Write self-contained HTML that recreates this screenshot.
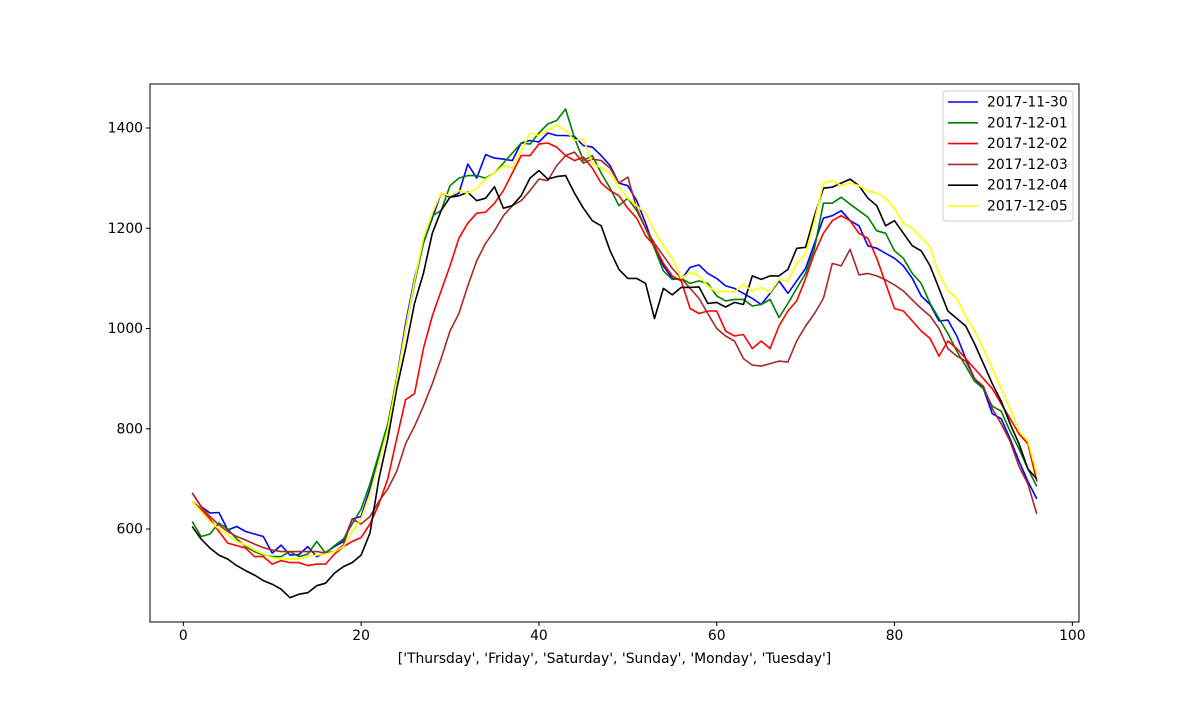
<!DOCTYPE html>
<html><head><meta charset="utf-8"><style>
body{margin:0;background:#fff;}
svg text{font-family:"DejaVu Sans","Liberation Sans",sans-serif;font-size:13.9px;fill:#000;}
</style></head><body>
<svg id="chart" width="1200" height="700" xmlns="http://www.w3.org/2000/svg">
<rect width="1200" height="700" fill="#fff"/>
<g id="plot"></g>
</svg>
<script>
const xTicks=[0,20,40,60,80,100];
const yTicks=[600,800,1000,1200,1400];
const seriesNames=["2017-11-30","2017-12-01","2017-12-02","2017-12-03","2017-12-04","2017-12-05"];
const seriesColors=["blue","green","red","brown","black","yellow"];
const s1130=[672,645,632,633,598,605,595,590,585,552,568,548,549,565,545,553,565,575,620,625,680,740,800,900,1010,1100,1170,1220,1270,1262,1270,1328,1300,1347,1340,1338,1335,1370,1375,1372,1390,1385,1385,1383,1365,1362,1345,1325,1290,1285,1255,1210,1160,1125,1100,1097,1122,1127,1110,1100,1085,1080,1070,1060,1048,1070,1095,1070,1095,1120,1170,1220,1225,1235,1215,1205,1165,1160,1150,1140,1125,1100,1065,1048,1015,1017,985,940,900,880,830,820,780,735,695,660];
const s1201=[615,585,590,612,600,580,565,555,548,545,545,555,545,550,575,552,567,580,610,640,690,750,810,900,1000,1090,1170,1225,1235,1285,1300,1305,1305,1300,1310,1330,1350,1370,1368,1390,1408,1415,1438,1380,1335,1345,1310,1280,1245,1260,1235,1200,1160,1115,1098,1100,1090,1095,1090,1065,1055,1058,1058,1045,1048,1058,1022,1050,1080,1110,1160,1250,1250,1262,1248,1235,1222,1195,1190,1155,1140,1110,1090,1050,1020,990,955,925,895,880,845,835,795,760,720,685];
const s1202=[655,640,620,595,572,567,562,545,545,530,537,533,533,527,530,530,550,565,575,583,610,650,700,780,858,870,960,1025,1075,1125,1180,1210,1230,1232,1250,1275,1310,1345,1345,1368,1370,1362,1345,1335,1342,1320,1290,1275,1265,1240,1220,1185,1165,1130,1105,1095,1040,1030,1035,1035,995,985,988,960,975,960,1005,1035,1055,1100,1150,1190,1215,1225,1215,1190,1180,1140,1090,1040,1035,1015,995,980,945,975,960,940,920,900,880,850,820,790,770,695];
const s1203=[672,645,625,608,595,585,578,570,563,558,555,555,555,555,555,552,555,568,620,610,625,655,680,715,770,805,845,890,940,995,1030,1085,1135,1170,1195,1225,1245,1255,1275,1298,1295,1325,1345,1352,1330,1338,1335,1320,1290,1302,1240,1200,1170,1145,1120,1100,1080,1060,1030,1000,985,975,940,927,925,930,935,933,975,1005,1030,1060,1130,1125,1158,1107,1110,1105,1097,1087,1075,1057,1040,1025,1000,960,945,935,900,885,840,810,775,725,690,630];
const s1204=[605,580,562,548,540,527,517,508,497,490,480,463,470,473,487,492,512,525,533,548,592,700,780,880,960,1050,1110,1190,1235,1262,1265,1272,1255,1260,1283,1240,1245,1265,1300,1315,1298,1303,1305,1270,1240,1215,1205,1155,1118,1100,1100,1090,1020,1080,1067,1082,1082,1083,1050,1052,1043,1052,1048,1105,1098,1105,1105,1118,1160,1162,1225,1280,1282,1290,1298,1285,1260,1245,1205,1215,1190,1165,1155,1125,1080,1035,1020,1005,970,930,890,855,810,770,720,700];
const s1205=[655,635,615,600,588,575,568,558,550,543,540,540,540,545,548,550,555,565,595,620,670,735,800,895,1000,1095,1180,1230,1270,1265,1275,1270,1280,1298,1310,1325,1320,1355,1390,1385,1395,1405,1395,1375,1378,1330,1320,1310,1282,1260,1245,1230,1195,1165,1140,1100,1112,1105,1085,1072,1075,1072,1088,1075,1082,1072,1098,1095,1130,1150,1215,1290,1295,1285,1290,1285,1275,1270,1260,1240,1210,1200,1182,1162,1110,1075,1060,1025,995,960,920,880,840,795,775,710];
const seriesValues=[s1130,s1201,s1202,s1203,s1204,s1205];

const L=150,R=1079,T=84,B=622;
const xMin=-3.75,xMax=100.75,yMin=414.5,yMax=1487.8;
const X=v=>L+(v-xMin)/(xMax-xMin)*(R-L);
const Y=v=>B-(v-yMin)/(yMax-yMin)*(B-T);
const NS="http://www.w3.org/2000/svg";
const g=document.getElementById('plot');
function mk(tag,attrs,parent){const e=document.createElementNS(NS,tag);for(const k in attrs)e.setAttribute(k,attrs[k]);(parent||g).appendChild(e);return e;}

seriesValues.forEach((vals,si)=>{
  const pts=vals.map((v,i)=>X(i+1).toFixed(1)+","+Y(v).toFixed(1)).join(" ");
  const p=mk('polyline',{points:pts,fill:'none',stroke:seriesColors[si],'stroke-width':1.6,'stroke-linejoin':'round'});
  
  
});

const frame=mk('rect',{x:L,y:T,width:R-L,height:B-T,fill:'none',stroke:'#000','stroke-width':1});



xTicks.forEach(t=>{
  const x=X(t);
  const tk=mk('line',{x1:x,x2:x,y1:B,y2:B+4,stroke:'#000'});
  
  
  const tx=mk('text',{x:x,y:B+18,'text-anchor':'middle'});
  tx.textContent=t;
  
  
});
yTicks.forEach(t=>{
  const y=Y(t);
  const tk=mk('line',{x1:L-4,x2:L,y1:y,y2:y,stroke:'#000'});
  
  
  const tx=mk('text',{x:L-7,y:y+4.5,'text-anchor':'end'});
  tx.textContent=t;
  
  
});
const xl=mk('text',{x:(L+R)/2,y:663,'text-anchor':'middle'});
xl.textContent="['Thursday', 'Friday', 'Saturday', 'Sunday', 'Monday', 'Tuesday']";



const lg=mk('g',{});


mk('rect',{x:943,y:91,width:130,height:130,rx:3,fill:'#fff',stroke:'#ccc'},lg);
seriesNames.forEach((n,i)=>{
  const y=102+i*20.8;
  const e=mk('g',{},lg);
  
  
  mk('line',{x1:948,x2:978,y1:y,y2:y,stroke:seriesColors[i],'stroke-width':1.6},e);
  const t=mk('text',{x:987,y:y+4.5},e);
  t.textContent=n;
});
</script>
</body></html>
